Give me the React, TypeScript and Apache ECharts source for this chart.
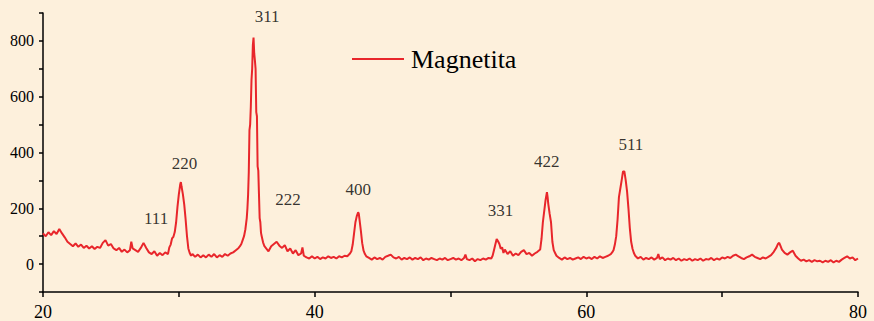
import React, { useEffect, useRef } from 'react';
import * as echarts from 'echarts';

const seriesName = 'Magnetita';

// XRD scan: [2θ (deg), intensity]
const scan: [number, number][] = [
  [20.0, 110], [20.2, 100], [20.4, 114], [20.6, 104], [20.8, 118], [21.0, 108], [21.2, 126], [21.4, 110],
  [21.6, 96], [21.8, 80], [22.0, 72], [22.2, 64], [22.4, 74], [22.6, 62], [22.8, 70], [23.0, 58],
  [23.2, 66], [23.4, 56], [23.6, 64], [23.8, 54], [24.0, 62], [24.2, 58], [24.4, 76], [24.6, 86],
  [24.8, 66], [25.0, 72], [25.2, 56], [25.4, 50], [25.6, 58], [25.8, 44], [26.0, 52], [26.2, 42],
  [26.4, 50], [26.5, 80], [26.6, 56], [26.8, 50], [27.0, 44], [27.2, 58], [27.4, 76], [27.6, 58],
  [27.8, 42], [28.0, 36], [28.2, 46], [28.4, 30], [28.6, 40], [28.8, 32], [29.0, 42], [29.2, 36],
  [29.3, 60], [29.4, 70], [29.5, 92], [29.6, 98], [29.7, 115], [29.8, 150], [29.9, 205], [30.0, 250],
  [30.1, 285], [30.15, 294], [30.2, 278], [30.3, 250], [30.4, 212], [30.5, 160], [30.6, 100], [30.7, 56],
  [30.8, 40], [30.9, 30], [31.0, 36], [31.2, 26], [31.4, 34], [31.6, 24], [31.8, 32], [32.0, 24],
  [32.2, 34], [32.4, 26], [32.6, 36], [32.8, 24], [33.0, 32], [33.2, 26], [33.4, 36], [33.6, 30],
  [33.8, 38], [34.0, 42], [34.2, 50], [34.4, 58], [34.5, 64], [34.6, 72], [34.7, 86], [34.8, 100],
  [34.9, 125], [35.0, 165], [35.05, 200], [35.1, 250], [35.15, 330], [35.2, 480], [35.25, 500], [35.3, 565],
  [35.35, 660], [35.4, 700], [35.45, 785], [35.5, 812], [35.52, 790], [35.55, 755], [35.6, 730], [35.65, 700],
  [35.7, 545], [35.75, 530], [35.8, 350], [35.85, 335], [35.9, 250], [35.95, 165], [36.0, 150], [36.05, 112],
  [36.1, 100], [36.2, 78], [36.3, 64], [36.4, 58], [36.5, 52], [36.6, 46], [36.8, 64], [37.0, 72],
  [37.2, 80], [37.4, 66], [37.6, 58], [37.8, 68], [38.0, 46], [38.2, 56], [38.4, 38], [38.6, 50],
  [38.8, 32], [39.0, 38], [39.1, 60], [39.2, 30], [39.4, 24], [39.6, 20], [39.8, 28], [40.0, 20],
  [40.2, 26], [40.4, 18], [40.6, 24], [40.8, 20], [41.0, 28], [41.2, 22], [41.4, 26], [41.6, 20],
  [41.8, 28], [42.0, 24], [42.2, 30], [42.4, 28], [42.6, 38], [42.7, 46], [42.8, 70], [42.9, 110],
  [43.0, 150], [43.1, 172], [43.2, 186], [43.25, 180], [43.3, 160], [43.4, 120], [43.5, 75], [43.6, 48],
  [43.7, 36], [43.8, 28], [44.0, 22], [44.2, 16], [44.4, 24], [44.6, 18], [44.8, 22], [45.0, 16],
  [45.2, 26], [45.4, 30], [45.6, 34], [45.8, 24], [46.0, 20], [46.2, 26], [46.4, 16], [46.6, 22],
  [46.8, 18], [47.0, 24], [47.2, 16], [47.4, 22], [47.6, 18], [47.8, 24], [48.0, 14], [48.2, 20],
  [48.4, 16], [48.6, 22], [48.8, 18], [49.0, 14], [49.2, 20], [49.4, 16], [49.6, 22], [49.8, 14],
  [50.0, 18], [50.2, 22], [50.4, 16], [50.6, 20], [50.8, 14], [51.0, 22], [51.1, 34], [51.2, 18],
  [51.4, 14], [51.6, 20], [51.8, 10], [52.0, 18], [52.2, 14], [52.4, 20], [52.6, 16], [52.8, 22],
  [53.0, 20], [53.1, 30], [53.2, 50], [53.3, 70], [53.4, 90], [53.5, 82], [53.6, 72], [53.7, 55],
  [53.8, 60], [53.9, 40], [54.0, 52], [54.2, 36], [54.4, 46], [54.6, 30], [54.8, 38], [55.0, 32],
  [55.2, 44], [55.4, 50], [55.6, 36], [55.8, 40], [56.0, 30], [56.2, 38], [56.4, 44], [56.6, 52],
  [56.7, 90], [56.8, 150], [56.9, 190], [57.0, 230], [57.1, 258], [57.15, 240], [57.2, 215], [57.3, 180],
  [57.4, 150], [57.5, 80], [57.6, 50], [57.7, 40], [57.8, 30], [58.0, 22], [58.2, 16], [58.4, 24],
  [58.6, 18], [58.8, 22], [59.0, 16], [59.2, 20], [59.4, 24], [59.6, 18], [59.8, 26], [60.0, 20],
  [60.2, 24], [60.4, 18], [60.6, 26], [60.8, 20], [61.0, 28], [61.2, 22], [61.4, 26], [61.6, 30],
  [61.8, 36], [61.9, 42], [62.0, 50], [62.1, 70], [62.2, 100], [62.3, 160], [62.4, 240], [62.5, 270],
  [62.6, 300], [62.7, 332], [62.8, 332], [62.9, 300], [63.0, 260], [63.1, 200], [63.2, 130], [63.3, 80],
  [63.4, 55], [63.5, 40], [63.6, 30], [63.8, 20], [64.0, 26], [64.2, 16], [64.4, 22], [64.6, 18],
  [64.8, 24], [65.0, 16], [65.2, 22], [65.3, 36], [65.4, 18], [65.6, 24], [65.8, 14], [66.0, 20],
  [66.2, 16], [66.4, 22], [66.6, 14], [66.8, 20], [67.0, 12], [67.2, 18], [67.4, 14], [67.6, 20],
  [67.8, 12], [68.0, 18], [68.2, 14], [68.4, 20], [68.6, 12], [68.8, 18], [69.0, 16], [69.2, 22],
  [69.4, 14], [69.6, 20], [69.8, 16], [70.0, 24], [70.2, 20], [70.4, 26], [70.6, 22], [70.8, 30],
  [71.0, 34], [71.2, 28], [71.4, 22], [71.6, 18], [71.8, 24], [72.0, 28], [72.2, 34], [72.4, 26],
  [72.6, 22], [72.8, 18], [73.0, 24], [73.2, 20], [73.4, 26], [73.6, 32], [73.8, 44], [74.0, 60],
  [74.1, 72], [74.2, 76], [74.3, 64], [74.4, 52], [74.6, 40], [74.8, 34], [75.0, 42], [75.2, 48],
  [75.4, 30], [75.6, 20], [75.8, 12], [76.0, 16], [76.2, 10], [76.4, 14], [76.6, 8], [76.8, 14],
  [77.0, 10], [77.2, 12], [77.4, 6], [77.6, 12], [77.8, 8], [78.0, 14], [78.2, 6], [78.4, 12],
  [78.6, 8], [78.8, 16], [79.0, 22], [79.2, 28], [79.4, 20], [79.6, 24], [79.8, 14], [80.0, 20],
];

// Miller-index annotations: label text and its [2θ, intensity] anchor (text centre)
const peakNames = ['111', '220', '311', '222', '400', '331', '422', '511'];
const peakLabelX = [28.32, 30.42, 36.5, 38.04, 43.2, 53.69, 57.09, 63.28];
const peakLabelY = [163, 362, 889, 232, 268, 192, 369, 427];

const xLabelled = [20, 40, 60, 80];
const yLabelled = [0, 200, 400, 600, 800];

const serif = "'Liberation Serif', 'Times New Roman', 'DejaVu Serif', serif";
const red = '#e8262b';
const ink = '#000000';

export default function App() {
  const ref = useRef<HTMLDivElement>(null);
  useEffect(() => {
    if (!ref.current) return;
    const chart = echarts.init(ref.current, undefined, { renderer: 'svg' });
    chart.setOption({
      animation: false,
      backgroundColor: '#fdf0dc',
      textStyle: { fontFamily: serif },
      grid: { left: 43, right: 16, top: 13, bottom: 29 },
      legend: {
        show: true,
        data: [seriesName],
        left: 352,
        top: 46,
        padding: 0,
        itemWidth: 52,
        itemHeight: 2,
        icon: 'rect',
        itemStyle: { color: red, borderWidth: 0 },
        textStyle: { fontSize: 26, color: ink, fontFamily: serif, padding: [0, 0, 0, 2] },
      },
      xAxis: {
        type: 'value',
        min: 20,
        max: 80,
        interval: 10,
        axisLine: { onZero: false, lineStyle: { color: '#000', width: 1.5 } },
        axisTick: { show: true, length: 5, lineStyle: { color: '#000', width: 1.5 } },
        axisLabel: {
          fontSize: 18,
          color: ink,
          fontFamily: serif,
          margin: 11,
          formatter: (v: number) => (xLabelled.includes(v) ? String(v) : ''),
        },
        splitLine: { show: false },
      },
      yAxis: {
        type: 'value',
        min: -100,
        max: 900,
        interval: 100,
        axisLine: { show: true, onZero: false, lineStyle: { color: '#000', width: 1.5 } },
        axisTick: { show: true, length: 4, lineStyle: { color: '#000', width: 1.5 } },
        axisLabel: {
          fontSize: 16,
          color: ink,
          fontFamily: serif,
          margin: 9,
          formatter: (v: number) => (yLabelled.includes(v) ? String(v) : ''),
        },
        splitLine: { show: false },
      },
      series: [
        {
          name: seriesName,
          type: 'line',
          data: scan,
          symbol: 'none',
          lineStyle: { color: red, width: 2 },
          itemStyle: { color: red },
        },
        {
          name: 'hkl',
          type: 'scatter',
          silent: true,
          symbolSize: 0,
          itemStyle: { color: 'transparent' },
          data: peakNames.map((n, i) => ({ name: n, value: [peakLabelX[i], peakLabelY[i]] })),
          label: {
            show: true,
            position: [0, 0],
            align: 'center',
            verticalAlign: 'middle',
            formatter: '{b}',
            fontSize: 17,
            color: ink,
            textBorderWidth: 0,
            fontFamily: serif,
          },
        },
      ],
    });
    return () => chart.dispose();
  }, []);
  return <div ref={ref} style={{ position: 'fixed', left: 0, top: 0, width: 874, height: 321 }} />;
}
